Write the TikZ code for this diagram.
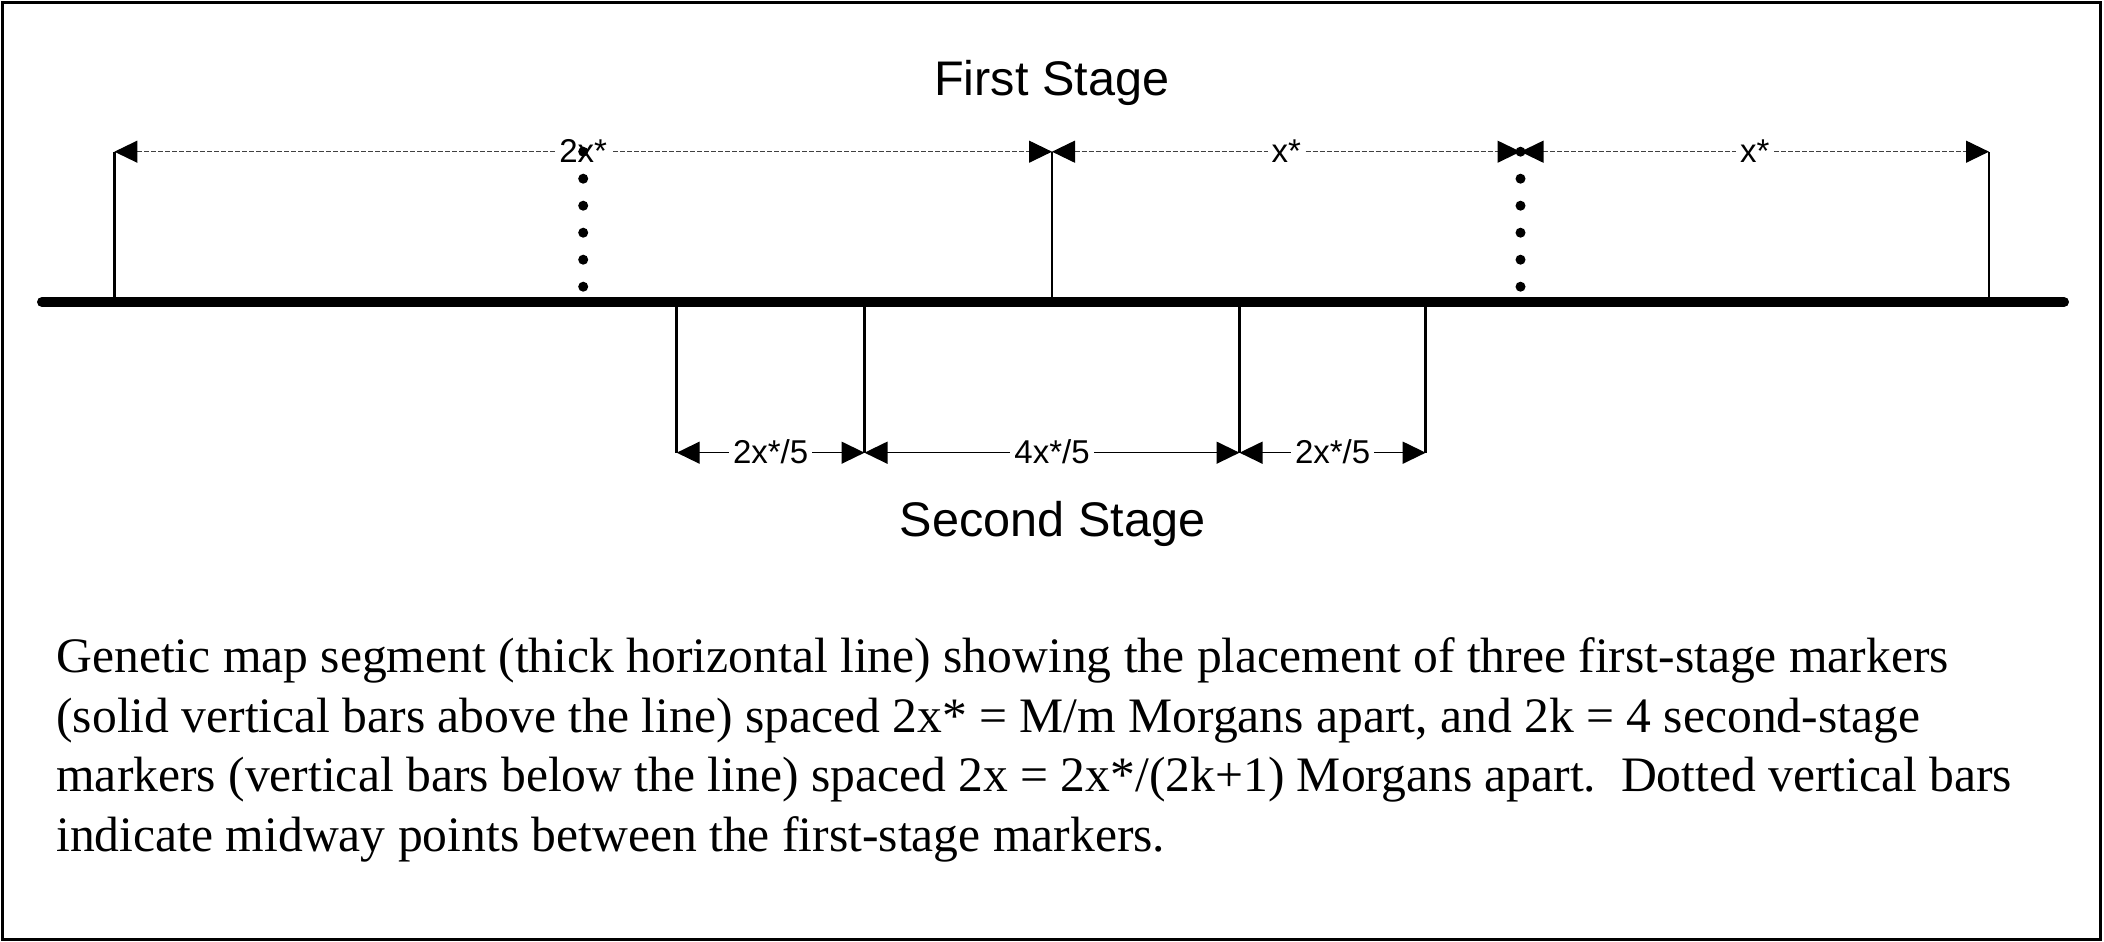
\documentclass[tikz,border=0pt]{standalone}
\usepackage{fontspec}
\setmainfont{Liberation Serif}
\newfontfamily\stagefont{Liberation Sans}
\usetikzlibrary{arrows.meta}

\begin{document}
\begin{tikzpicture}[x=0.5pt,y=-0.5pt,
  every node/.style={inner sep=0pt},
  stagelabel/.style={font=\stagefont\fontsize{24.3}{28}\selectfont,anchor=base},
  dimlabel/.style={font=\stagefont\fontsize{16.5}{18}\selectfont,anchor=base,text=black,
    fill=white,inner xsep=2pt,inner ysep=1pt,yshift=-5.2pt},
  dimtip/.tip={Triangle[length=11.5pt,width=11pt,color=black]},
  mapline/.style={line width=5pt,line cap=round},
  markerbar/.style={line width=1.3pt},
  firstdim/.style={gray!50!black,line width=0.6pt,dash pattern=on 2.5pt off 1pt,dimtip-dimtip},
  seconddim/.style={line width=0.7pt,dimtip-dimtip},
  captionline/.style={font=\fontsize{24.8}{28}\selectfont,anchor=base west}]
\useasboundingbox (0,0) rectangle (2104,942);
\draw[line width=1.5pt] (2,2) rectangle (2100.5,939.5);

% map segment
\coordinate (mapstart) at (42,302);
\coordinate (mapend) at (2064,302);
\draw[mapline] (mapstart) -- (mapend);

% first-stage markers and midway points
\foreach \name/\xpos in {m1/114.4,m2/1052,m3/1989} {
  \coordinate (\name) at (\xpos,302);
  \coordinate (\name top) at (\xpos,151.7);
  \draw[markerbar] (\name) -- (\name top);
}
\foreach \name/\xpos in {h1/583.2,h2/1520.5} {
  \coordinate (\name) at (\xpos,302);
  \coordinate (\name top) at (\xpos,151.7);
}

% second-stage markers
\foreach \name/\xpos in {s1/676.7,s2/864.5,s3/1239.5,s4/1425.7} {
  \coordinate (\name) at (\xpos,302);
  \coordinate (\name bot) at (\xpos,452.7);
  \draw[markerbar] (\name) -- (\name bot);
}

% spacings
\draw[firstdim] (m1top) -- (m2top) node[midway,dimlabel] (d2x) {2x*};
\draw[firstdim] (m2top) -- (h2top) node[midway,dimlabel] (dx1) {x*};
\draw[firstdim] (h2top) -- (m3top) node[midway,dimlabel] (dx2) {x*};
\draw[seconddim] (s1bot) -- (s2bot) node[midway,dimlabel] (ds1) {2x*/5};
\draw[seconddim] (s2bot) -- (s3bot) node[midway,dimlabel] (ds2) {4x*/5};
\draw[seconddim] (s3bot) -- (s4bot) node[midway,dimlabel] (ds3) {2x*/5};

% dotted midway bars
\foreach \name in {h1,h2}
  \foreach \k in {0,...,5}
    \fill (\name top) ++(0,27*\k) circle[radius=5];

\node[stagelabel] (firststage) at (1051.7,95) {First Stage};
\node[stagelabel] (secondstage) at (1052.5,536.7) {Second Stage};

% caption
\node[captionline] (cap1) at (56,672.7) {Genetic map segment (thick horizontal line) showing the placement of three first-stage markers};
\node[captionline] (cap2) at (56,732.2) {(solid vertical bars above the line) spaced 2x* = M/m Morgans apart, and 2k = 4 second-stage};
\node[captionline] (cap3) at (56,791.7) {markers (vertical bars below the line) spaced 2x = 2x*/(2k+1) Morgans apart.\ \ Dotted vertical bars};
\node[captionline] (cap4) at (56,851.2) {indicate midway points between the first-stage markers.};
\end{tikzpicture}
\end{document}
